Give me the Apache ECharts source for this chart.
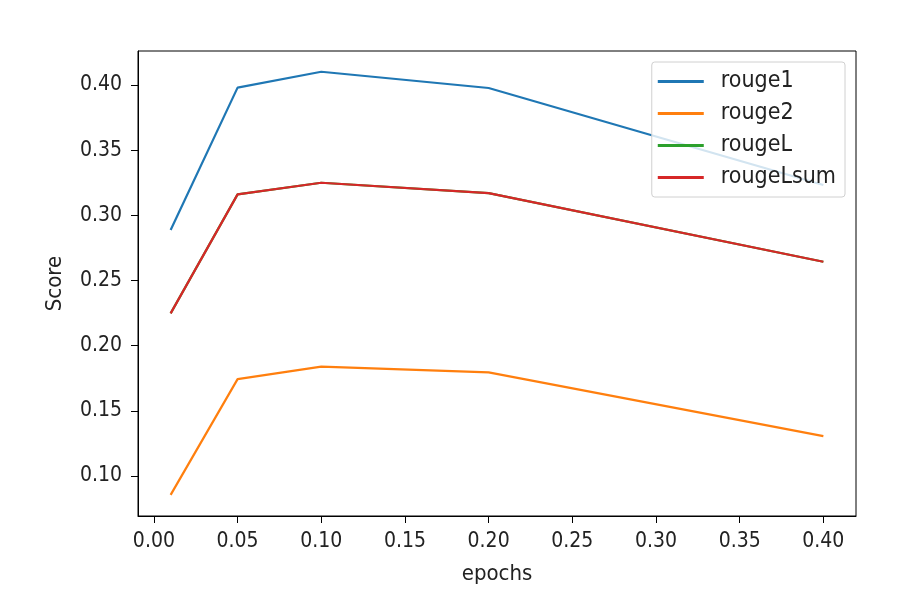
<!DOCTYPE html>
<html>
<head>
<meta charset="utf-8">
<script src="https://cdn.jsdelivr.net/npm/echarts@6/dist/echarts.min.js"></script>
<style>
  html, body { margin: 0; padding: 0; background: #fff; }
  #main { width: 914px; height: 615px; }
</style>
</head>
<body>
<div id="main"></div>
<script>
// x values (epochs) and scores
var epochs = [0.01, 0.05, 0.10, 0.20, 0.40];
var rouge1 = [0.2887, 0.3980, 0.4102, 0.3977, 0.3233];
var rouge2 = [0.0855, 0.1743, 0.1839, 0.1795, 0.1306];
var rougeL = [0.2248, 0.3161, 0.3250, 0.3170, 0.2644];
var rougeLsum = [0.2248, 0.3161, 0.3250, 0.3170, 0.2644];

var seriesNames = ['rouge1', 'rouge2', 'rougeL', 'rougeLsum'];
var colors = ['#1f77b4', '#ff7f0e', '#2ca02c', '#d62728'];

var xTicks = [0.00, 0.05, 0.10, 0.15, 0.20, 0.25, 0.30, 0.35, 0.40];
var yTicks = [0.10, 0.15, 0.20, 0.25, 0.30, 0.35, 0.40];

var fontFam = "'DejaVu Sans Condensed', 'DejaVu Sans', sans-serif";
var textCol = '#222';

function pairs(ys) {
	var out = [];
	for (var i = 0; i < epochs.length; i++) out.push([epochs[i], ys[i]]);
	return out;
}

var allData = [rouge1, rouge2, rougeL, rougeLsum];
var series = [];
for (var i = 0; i < seriesNames.length; i++) {
	series.push({
		name: seriesNames[i],
		type: 'line',
		data: pairs(allData[i]),
		showSymbol: false,
		lineStyle: { width: 2.2, color: colors[i] },
		itemStyle: { color: colors[i] }
	});
}

var chart = echarts.init(document.getElementById('main'));
chart.setOption({
	animation: false,
	backgroundColor: '#fff',
	textStyle: { fontFamily: fontFam },
	grid: {
		left: 138, top: 51, right: 58, bottom: 99,
		show: true, borderColor: '#000', borderWidth: 1
	},
	legend: {
		data: seriesNames,
		orient: 'vertical',
		right: 69,
		top: 62,
		icon: 'rect',
		itemWidth: 46,
		itemHeight: 3,
		itemGap: 9,
		padding: [8, 9, 8, 6],
		backgroundColor: 'rgba(255,255,255,0.8)',
		borderColor: '#d0d0d0',
		borderWidth: 1,
		borderRadius: 3,
		textStyle: { fontSize: 23, color: textCol, fontFamily: fontFam, padding: [0, 0, 0, 12] }
	},
	xAxis: {
		type: 'value',
		min: -0.0095,
		max: 0.4195,
		name: 'epochs',
		nameLocation: 'middle',
		nameGap: 47,
		nameTextStyle: { fontSize: 22, color: textCol },
		axisLine: { show: true, onZero: false, lineStyle: { color: '#000' } },
		axisTick: { show: true, length: 7, inside: false, lineStyle: { color: '#000' }, customValues: xTicks },
		axisLabel: {
			fontSize: 21, color: textCol, margin: 15, customValues: xTicks,
			formatter: function(v) { return v.toFixed(2); }
		},
		splitLine: { show: false }
	},
	yAxis: {
		type: 'value',
		min: 0.0693,
		max: 0.4261,
		name: 'Score',
		nameLocation: 'middle',
		nameGap: 72,
		nameTextStyle: { fontSize: 22, color: textCol },
		axisLine: { show: true, onZero: false, lineStyle: { color: '#000' } },
		axisTick: { show: true, length: 7, inside: false, lineStyle: { color: '#000' }, customValues: yTicks },
		axisLabel: {
			fontSize: 21, color: textCol, margin: 16, customValues: yTicks,
			formatter: function(v) { return v.toFixed(2); }
		},
		splitLine: { show: false }
	},
	series: series
});
</script>
</body>
</html>
